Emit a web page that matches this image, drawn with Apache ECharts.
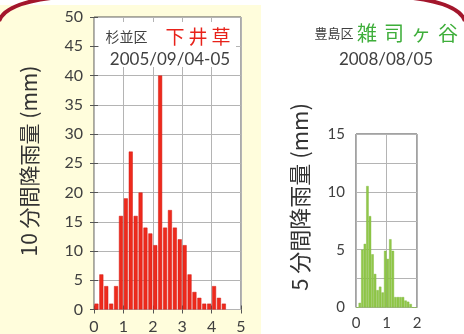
<!DOCTYPE html>
<html>
<head>
<meta charset="utf-8">
<script src="https://cdn.jsdelivr.net/npm/echarts@6/dist/echarts.min.js"></script>
<style>
  html, body { margin: 0; padding: 0; background: #fff; }
  #chart { width: 464px; height: 334px; }
</style>
</head>
<body>
<div id="chart"></div>
<script>
// 10-minute rainfall (mm), Suginami Ward, Shimoigusa, 2005/09/04-05
const suginamiRain10 = [1, 6, 4, 1, 4, 16, 19, 27, 16, 20, 14, 13, 11, 40, 14, 17, 14, 12, 11, 6, 3, 2, 1, 1, 4, 2, 1];
// 5-minute rainfall (mm), Toshima Ward, Zoshigaya, 2008/08/05
const toshimaRain5 = [0, 0.4, 5.0, 5.5, 10.5, 7.9, 4.6, 2.9, 1.5, 1.8, 1.3, 4.9, 4.2, 5.9, 4.9, 0.9, 0.9, 0.9, 0.9, 0.6, 0.5, 0.3, 0, 0];

// bin length in hours for each series
const suginamiBin = 1 / 6;
const toshimaBin = 1 / 12;

// axis ranges (hours / mm)
const suginamiHours = [0, 5];
const suginamiMm = [0, 50];
const toshimaHours = [0, 2];
const toshimaMm = [0, 15];

const numFont = 'Lato';
const jpFont = '"Noto Sans CJK JP"';
const textGray = '#404040';

const toPoints = (vals, bin) => vals.map((v, i) => [(i + 0.5) * bin, v]);

const chart = echarts.init(document.getElementById('chart'), null, { renderer: 'canvas' });

const grids = [
  { left: 94, top: 17, width: 147, height: 292.5, show: true, backgroundColor: '#fff',
    borderColor: '#555', borderWidth: 1, containLabel: false, outerBoundsMode: 'none' },
  { left: 356, top: 134, width: 61, height: 173.5, show: true, backgroundColor: '#fff',
    borderColor: '#444', borderWidth: 1, containLabel: false, outerBoundsMode: 'none' }
];

const tickIn = { show: true, inside: true, length: 4, lineStyle: { color: '#555', width: 1 } };
const gridLine = { show: true, lineStyle: { color: '#b4b4b4', width: 1 } };

const option = {
  animation: false,
  grid: grids,
  xAxis: [
    { gridIndex: 0, type: 'value', min: suginamiHours[0], max: suginamiHours[1], interval: 1,
      axisLine: { show: false }, axisTick: tickIn, splitLine: gridLine,
      axisLabel: { fontFamily: numFont, fontSize: 16, color: textGray, margin: 9 } },
    { gridIndex: 0, type: 'value', position: 'top', min: suginamiHours[0], max: suginamiHours[1], interval: 1,
      axisLine: { show: false }, axisTick: tickIn, splitLine: { show: false }, axisLabel: { show: false } },
    { gridIndex: 1, type: 'value', min: toshimaHours[0], max: toshimaHours[1], interval: 1,
      axisLine: { show: false }, axisTick: { show: false }, splitLine: gridLine,
      axisLabel: { fontFamily: numFont, fontSize: 15, color: textGray, margin: 8 } }
  ],
  yAxis: [
    { gridIndex: 0, type: 'value', min: suginamiMm[0], max: suginamiMm[1], interval: 5,
      axisLine: { show: false }, axisTick: tickIn, splitLine: gridLine,
      axisLabel: { fontFamily: numFont, fontSize: 16, color: textGray, margin: 11 } },
    { gridIndex: 0, type: 'value', position: 'right', min: suginamiMm[0], max: suginamiMm[1], interval: 5,
      axisLine: { show: false }, axisTick: tickIn, splitLine: { show: false }, axisLabel: { show: false } },
    { gridIndex: 1, type: 'value', min: toshimaMm[0], max: toshimaMm[1], interval: 2.5,
      axisLine: { show: false }, axisTick: { show: false }, splitLine: gridLine,
      axisLabel: { fontFamily: numFont, fontSize: 15, color: textGray, margin: 11,
        formatter: v => (v % 5 === 0 ? String(v) : '') } }
  ],
  series: [
    { type: 'bar', xAxisIndex: 0, yAxisIndex: 0, barWidth: 4, z: 3,
      data: toPoints(suginamiRain10, suginamiBin),
      itemStyle: { color: '#ee2a1c', borderColor: '#d21a14', borderWidth: 0.5 } },
    { type: 'bar', xAxisIndex: 2, yAxisIndex: 2, barWidth: 2.4, z: 3,
      data: toPoints(toshimaRain5, toshimaBin),
      itemStyle: { color: '#92c84a', borderColor: '#7ab535', borderWidth: 0.4 } }
  ],
  graphic: [
    // pale yellow panel behind the left chart
    { type: 'rect', z: -5, shape: { x: 0, y: 5, width: 261, height: 329 },
      style: { fill: '#fffddc' } },
    // framing arcs at the top corners
    { type: 'bezierCurve', z: 20,
      shape: { x1: -1, y1: 21, cpx1: 6, cpy1: 2, x2: 60, y2: -3 },
      style: { stroke: '#a3162c', lineWidth: 4, fill: null } },
    { type: 'bezierCurve', z: 20,
      shape: { x1: 465, y1: 21, cpx1: 458, cpy1: 2, x2: 404, y2: -3 },
      style: { stroke: '#a3162c', lineWidth: 4, fill: null } },
    // white label box inside the left plot
    { type: 'rect', z: 10, shape: { x: 99, y: 22, width: 137, height: 45 },
      style: { fill: '#fff' } },
    { type: 'text', z: 11, x: 169, y: 37,
      style: { text: '{a|杉並区}{b|下}{b|井}{b|草}', align: 'center', verticalAlign: 'middle',
        rich: {
          a: { fontFamily: jpFont, fontSize: 14, fill: textGray, padding: [0, 16, 0, 0] },
          b: { fontFamily: jpFont, fontSize: 19, fill: '#e8221a', padding: [0, 2] }
        } } },
    { type: 'text', z: 11, x: 170, y: 59.5,
      style: { text: '2005/09/04-05', align: 'center', verticalAlign: 'middle',
        fontFamily: numFont, fontSize: 17, fill: textGray } },
    // right chart label
    { type: 'text', z: 11, x: 388, y: 33.5,
      style: { text: '{a|豊島区}{b|雑}{b|司}{b|ヶ}{b|谷}', align: 'center', verticalAlign: 'middle',
        rich: {
          a: { fontFamily: jpFont, fontSize: 13, fill: textGray, padding: [0, 0, 0, 0] },
          b: { fontFamily: jpFont, fontSize: 20, fill: '#3eae3a', padding: [0, 3.5] }
        } } },
    { type: 'text', z: 11, x: 386, y: 60,
      style: { text: '2008/08/05', align: 'center', verticalAlign: 'middle',
        fontFamily: numFont, fontSize: 17, fill: textGray } },
    // vertical axis titles
    { type: 'text', z: 11, x: 29, y: 161, rotation: Math.PI / 2,
      style: { text: '10 分間降雨量 (mm)', align: 'center', verticalAlign: 'middle',
        fontFamily: jpFont, fontSize: 21, fill: '#333' } },
    { type: 'text', z: 11, x: 300, y: 197, rotation: Math.PI / 2,
      style: { text: '5 分間降雨量 (mm)', align: 'center', verticalAlign: 'middle',
        fontFamily: jpFont, fontSize: 22, fill: '#333' } }
  ]
};

chart.setOption(option);
</script>
</body>
</html>
